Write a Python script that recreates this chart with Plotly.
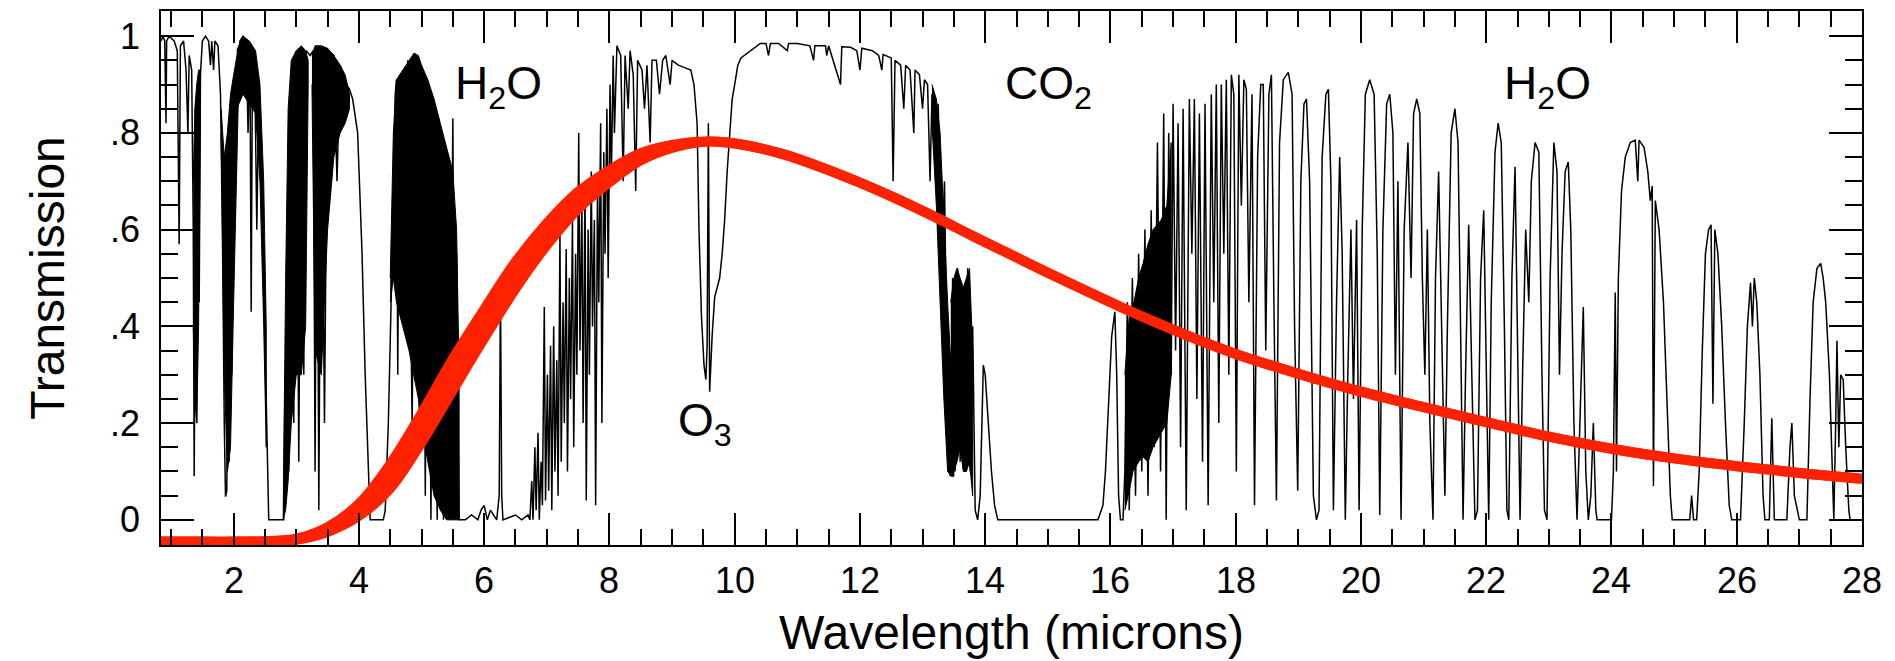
import plotly.graph_objects as go

# ---------------- red curve (band between two edges) ----------------
red_x = [0.84, 1.5, 2.0, 2.5, 3.0, 3.5, 4.0, 4.5, 5.0, 5.5, 6.0, 6.5, 7.0, 7.5, 8.0, 8.5, 9.0, 9.6,
         10.2, 10.8, 11.4, 12.0, 12.6, 13.2, 13.8, 14.4, 15.0, 15.6, 16.2, 16.8, 17.4, 18.0, 19.0,
         20.0, 21.0, 22.0, 23.0, 24.0, 25.0, 26.0, 27.0, 28.0]
red_lower = [-0.045, -0.045, -0.045, -0.044, -0.041, -0.025, 0.008, 0.065, 0.160, 0.268, 0.375, 0.478,
             0.568, 0.643, 0.698, 0.743, 0.769, 0.782, 0.774, 0.755, 0.728, 0.697, 0.663, 0.626,
             0.587, 0.549, 0.511, 0.474, 0.438, 0.404, 0.372, 0.343, 0.302, 0.265, 0.233, 0.202,
             0.172, 0.147, 0.127, 0.111, 0.097, 0.085]
red_upper = [-0.045, -0.045, -0.045, -0.044, -0.039, -0.015, 0.033, 0.115, 0.220, 0.333, 0.435, 0.533,
             0.613, 0.678, 0.723, 0.758, 0.775, 0.782, 0.774, 0.755, 0.728, 0.697, 0.663, 0.626,
             0.587, 0.549, 0.511, 0.474, 0.438, 0.404, 0.372, 0.343, 0.302, 0.265, 0.233, 0.202,
             0.172, 0.147, 0.127, 0.111, 0.097, 0.085]

# ---------------- transmission spectrum (x microns, transmission) ----------------
spec_near_ir = [(0.84, 0.99), (0.87, 1.0), (0.90, 0.99), (0.92, 0.82), (0.93, 0.99), (0.97, 1.0),
                (1.05, 0.99), (1.10, 0.97), (1.13, 0.57), (1.15, 0.98), (1.20, 0.99), (1.24, 0.93),
                (1.27, 0.80), (1.29, 0.96), (1.33, 0.93), (1.355, 0.6), (1.37, 0.09), (1.39, 0.55),
                (1.41, 0.2), (1.43, 0.8), (1.45, 0.45), (1.47, 0.92), (1.50, 0.99), (1.55, 1.0),
                (1.60, 0.99), (1.63, 0.94), (1.65, 0.99), (1.68, 0.93), (1.70, 0.99), (1.75, 0.98),
                (1.79, 0.88), (1.82, 0.6), (1.85, 0.2), (1.87, 0.048), (1.89, 0.06), (1.91, 0.35),
                (1.93, 0.12), (1.95, 0.55), (1.97, 0.3), (1.99, 0.75), (2.02, 0.6), (2.05, 0.92),
                (2.10, 0.99), (2.15, 1.0), (2.20, 0.99), (2.23, 0.8), (2.26, 0.97), (2.28, 0.43),
                (2.30, 0.95), (2.34, 0.9), (2.37, 0.6), (2.40, 0.88), (2.44, 0.75), (2.47, 0.55),
                (2.50, 0.35), (2.53, 0.14), (2.56, 0.0), (2.80, 0.0)]
spec_3um = [(2.82, 0.3), (2.84, 0.05), (2.86, 0.6), (2.88, 0.1), (2.92, 0.9), (2.96, 0.2),
            (3.00, 0.97), (3.04, 0.12), (3.08, 0.97), (3.12, 0.3), (3.16, 0.97), (3.22, 0.96),
            (3.27, 0.97), (3.30, 0.1), (3.33, 0.95), (3.36, 0.02), (3.40, 0.97), (3.45, 0.2),
            (3.50, 0.97), (3.60, 0.96), (3.65, 0.7), (3.70, 0.94), (3.80, 0.9), (3.85, 0.89),
            (3.90, 0.87), (3.98, 0.8), (4.05, 0.55), (4.10, 0.3), (4.15, 0.08), (4.18, 0.0),
            (4.39, 0.0), (4.42, 0.02), (4.47, 0.2), (4.52, 0.45), (4.55, 0.65), (4.58, 0.88)]
spec_5um = [(4.60, 0.91), (4.62, 0.3), (4.65, 0.92), (4.72, 0.4), (4.78, 0.95), (4.85, 0.2),
            (4.90, 0.96), (4.97, 0.15), (5.02, 0.93), (5.06, 0.05), (5.10, 0.9), (5.15, 0.0),
            (5.20, 0.86), (5.25, 0.0), (5.30, 0.8), (5.35, 0.0), (5.40, 0.76), (5.45, 0.0),
            (5.50, 0.83), (5.53, 0.0), (5.56, 0.55), (5.60, 0.0)]
spec_6um = [(5.70, 0.0), (5.80, 0.01), (5.90, 0.0), (5.95, 0.02), (6.00, 0.03), (6.05, 0.0),
            (6.10, 0.02), (6.20, 0.0), (6.24, 0.05), (6.26, 0.48), (6.28, 0.05), (6.30, 0.0),
            (6.50, 0.01), (6.60, 0.0), (6.70, 0.01), (6.73, 0.0), (6.76, 0.08), (6.78, 0.0),
            (6.81, 0.15), (6.83, 0.02), (6.86, 0.18), (6.88, 0.0), (6.91, 0.12), (6.93, 0.03),
            (6.96, 0.44), (6.98, 0.04), (7.01, 0.3), (7.03, 0.06), (7.06, 0.36), (7.08, 0.02),
            (7.11, 0.4), (7.13, 0.1), (7.16, 0.33), (7.18, 0.05), (7.21, 0.59), (7.23, 0.12),
            (7.26, 0.45), (7.28, 0.2), (7.31, 0.56), (7.33, 0.1), (7.36, 0.5), (7.38, 0.25),
            (7.41, 0.62), (7.43, 0.15), (7.46, 0.55), (7.48, 0.3), (7.51, 0.80), (7.53, 0.35),
            (7.56, 0.66), (7.58, 0.2), (7.61, 0.7), (7.63, 0.04), (7.66, 0.6), (7.68, 0.3),
            (7.71, 0.72), (7.73, 0.4), (7.76, 0.62), (7.78, 0.03), (7.81, 0.7), (7.83, 0.45),
            (7.86, 0.82), (7.88, 0.2), (7.91, 0.76), (7.93, 0.55), (7.96, 0.85), (7.98, 0.5),
            (8.01, 0.9), (8.03, 0.7), (8.06, 0.96), (8.08, 0.8)]
spec_window = [(8.12, 0.98), (8.18, 0.96), (8.22, 0.70), (8.25, 0.96), (8.30, 0.85), (8.33, 0.97),
               (8.38, 0.92), (8.42, 0.68), (8.45, 0.95), (8.52, 0.93), (8.56, 0.85), (8.60, 0.94),
               (8.65, 0.78), (8.68, 0.95), (8.75, 0.95), (8.80, 0.88), (8.85, 0.95), (8.90, 0.96),
               (8.97, 0.9), (9.00, 0.95), (9.10, 0.94), (9.20, 0.935), (9.30, 0.93), (9.35, 0.9),
               (9.40, 0.82), (9.43, 0.6), (9.47, 0.42), (9.51, 0.32), (9.54, 0.29), (9.56, 0.36),
               (9.58, 0.82), (9.60, 0.265), (9.64, 0.38), (9.68, 0.46), (9.72, 0.48), (9.76, 0.5),
               (9.80, 0.55), (9.84, 0.62), (9.88, 0.72), (9.92, 0.8), (9.96, 0.87), (10.00, 0.9),
               (10.05, 0.94), (10.10, 0.955), (10.20, 0.965), (10.30, 0.975), (10.41, 0.985),
               (10.50, 0.985), (10.54, 0.96), (10.57, 0.985), (10.70, 0.985), (10.84, 0.97),
               (10.86, 0.985), (11.00, 0.985), (11.20, 0.98), (11.26, 0.95), (11.28, 0.98),
               (11.45, 0.98), (11.47, 0.96), (11.50, 0.98), (11.69, 0.9), (11.71, 0.978),
               (11.85, 0.977), (11.95, 0.97), (12.00, 0.93), (12.03, 0.975), (12.20, 0.97),
               (12.30, 0.96), (12.35, 0.93), (12.37, 0.962), (12.50, 0.955), (12.53, 0.7),
               (12.56, 0.95), (12.65, 0.94), (12.70, 0.85), (12.73, 0.94), (12.80, 0.93),
               (12.86, 0.8), (12.88, 0.93), (12.95, 0.92), (13.00, 0.85), (13.03, 0.91),
               (13.08, 0.9), (13.12, 0.7), (13.15, 0.88)]
spec_co2 = [(13.20, 0.75), (13.25, 0.86), (13.30, 0.5), (13.35, 0.7), (13.40, 0.2), (13.44, 0.09),
            (13.48, 0.5), (13.52, 0.1), (13.56, 0.52), (13.60, 0.12), (13.64, 0.48), (13.68, 0.15),
            (13.72, 0.52), (13.76, 0.1), (13.80, 0.4), (13.84, 0.02), (13.88, 0.0), (13.92, 0.05),
            (13.97, 0.32), (14.00, 0.30), (14.05, 0.2), (14.10, 0.1), (14.15, 0.03), (14.20, 0.0),
            (15.80, 0.0), (15.83, 0.01), (15.88, 0.03), (15.92, 0.1), (15.97, 0.25), (16.02, 0.38),
            (16.07, 0.43), (16.10, 0.3), (16.13, 0.05), (16.16, 0.0), (16.20, 0.0), (16.23, 0.1),
            (16.27, 0.45), (16.30, 0.02), (16.35, 0.5), (16.40, 0.05), (16.45, 0.55), (16.50, 0.1),
            (16.55, 0.6), (16.60, 0.05), (16.65, 0.64), (16.70, 0.15), (16.75, 0.78), (16.80, 0.1),
            (16.85, 0.84), (16.89, 0.0), (16.93, 0.8), (16.97, 0.3)]
spec_far_a = [(17.00, 0.86), (17.04, 0.35), (17.08, 0.82), (17.12, 0.15), (17.16, 0.85), (17.21, 0.02),
              (17.26, 0.87), (17.30, 0.55), (17.34, 0.87), (17.38, 0.25), (17.42, 0.84), (17.47, 0.12),
              (17.51, 0.86), (17.56, 0.03), (17.61, 0.88), (17.65, 0.45), (17.69, 0.90), (17.73, 0.2),
              (17.77, 0.9), (17.81, 0.55), (17.85, 0.91), (17.89, 0.3), (17.93, 0.92), (17.97, 0.88),
              (18.01, 0.10), (18.05, 0.92), (18.09, 0.65), (18.13, 0.91), (18.17, 0.89), (18.21, 0.45),
              (18.26, 0.88), (18.30, 0.03), (18.35, 0.75), (18.40, 0.90), (18.44, 0.90), (18.48, 0.35),
              (18.53, 0.88), (18.57, 0.92), (18.61, 0.45), (18.65, 0.04), (18.70, 0.78), (18.76, 0.91),
              (18.84, 0.925), (18.90, 0.88), (18.94, 0.4), (18.99, 0.06), (19.04, 0.70), (19.09, 0.86),
              (19.13, 0.87), (19.18, 0.70), (19.24, 0.05), (19.29, 0.0), (19.33, 0.02), (19.38, 0.75),
              (19.44, 0.88), (19.48, 0.89), (19.52, 0.7), (19.56, 0.02), (19.61, 0.45), (19.66, 0.75),
              (19.70, 0.55), (19.75, 0.0), (19.79, 0.3), (19.84, 0.6), (19.88, 0.25), (19.93, 0.62),
              (19.97, 0.02)]
spec_far_b = [(20.02, 0.6), (20.07, 0.88), (20.14, 0.91), (20.21, 0.88), (20.26, 0.55), (20.30, 0.01),
              (20.35, 0.6), (20.41, 0.86), (20.46, 0.88), (20.51, 0.8), (20.55, 0.3), (20.59, 0.7),
              (20.64, 0.0), (20.69, 0.6), (20.75, 0.78), (20.80, 0.5), (20.84, 0.84), (20.89, 0.87),
              (20.94, 0.84), (20.98, 0.5), (21.02, 0.3), (21.06, 0.6), (21.10, 0.2), (21.15, 0.0),
              (21.19, 0.5), (21.24, 0.72), (21.30, 0.3), (21.34, 0.05), (21.38, 0.4), (21.44, 0.8),
              (21.50, 0.85), (21.55, 0.78), (21.59, 0.4), (21.63, 0.0), (21.67, 0.3), (21.72, 0.61),
              (21.77, 0.3), (21.82, 0.0), (21.86, 0.02), (21.91, 0.5), (21.96, 0.64), (22.00, 0.3),
              (22.04, 0.0), (22.08, 0.45), (22.14, 0.76), (22.19, 0.82), (22.24, 0.78), (22.29, 0.4),
              (22.33, 0.02)]
spec_far_c = [(22.36, 0.0), (22.41, 0.5), (22.46, 0.73), (22.50, 0.4), (22.54, 0.0), (22.58, 0.3),
              (22.63, 0.6), (22.68, 0.45), (22.72, 0.7), (22.78, 0.78), (22.84, 0.76), (22.89, 0.3),
              (22.93, 0.02), (22.97, 0.0), (23.02, 0.5), (23.08, 0.78), (23.13, 0.72), (23.17, 0.3),
              (23.21, 0.55), (23.26, 0.72), (23.31, 0.74), (23.35, 0.6), (23.40, 0.2), (23.45, 0.0),
              (23.50, 0.2), (23.55, 0.44), (23.59, 0.1), (23.63, 0.0), (23.67, 0.05), (23.71, 0.2),
              (23.75, 0.02), (23.77, 0.0), (24.00, 0.0), (24.03, 0.1), (24.06, 0.47), (24.08, 0.1),
              (24.11, 0.5), (24.16, 0.68), (24.22, 0.75), (24.30, 0.78), (24.38, 0.785), (24.42, 0.70),
              (24.44, 0.785), (24.52, 0.77), (24.58, 0.72), (24.62, 0.66), (24.65, 0.69), (24.67, 0.07),
              (24.70, 0.66), (24.76, 0.6), (24.83, 0.45), (24.89, 0.25), (24.94, 0.05), (24.97, 0.0)]
spec_far_d = [(25.25, 0.0), (25.28, 0.05), (25.31, 0.0), (25.36, 0.0), (25.40, 0.1), (25.45, 0.35),
              (25.50, 0.55), (25.55, 0.6), (25.59, 0.61), (25.62, 0.24), (25.65, 0.6), (25.70, 0.55),
              (25.76, 0.4), (25.82, 0.2), (25.88, 0.03), (25.92, 0.0), (26.06, 0.0), (26.12, 0.2),
              (26.17, 0.4), (26.22, 0.49), (26.25, 0.4), (26.28, 0.5), (26.32, 0.45), (26.37, 0.3),
              (26.42, 0.05), (26.45, 0.0), (26.52, 0.0), (26.56, 0.21), (26.60, 0.0), (26.80, 0.0),
              (26.85, 0.15), (26.88, 0.2), (26.92, 0.05), (27.00, 0.0), (27.12, 0.0), (27.17, 0.25),
              (27.22, 0.45), (27.28, 0.52), (27.34, 0.53), (27.38, 0.5), (27.42, 0.45), (27.48, 0.3),
              (27.53, 0.05), (27.55, 0.0), (27.58, 0.2), (27.60, 0.37), (27.63, 0.15), (27.66, 0.3),
              (27.70, 0.29), (27.74, 0.15), (27.79, 0.02), (27.81, 0.0), (28.00, 0.0)]

# ---------------- densely packed line regions (upper / lower envelopes) ----------------
band14_x = [1.355, 1.38, 1.41, 1.44, 1.47]
band14_top = [0.70, 0.85, 0.90, 0.93, 0.93]
band14_bot = [0.40, 0.25, 0.20, 0.40, 0.85]

band19_x = [1.80, 1.85, 1.90, 1.95, 2.00, 2.05, 2.08]
band19_top = [0.85, 0.75, 0.80, 0.88, 0.92, 0.96, 0.98]
band19_bot = [0.80, 0.30, 0.10, 0.15, 0.45, 0.75, 0.90]

band22_x = [2.05, 2.15, 2.25, 2.35, 2.42, 2.48, 2.52]
band22_top = [0.97, 1.00, 0.99, 0.97, 0.90, 0.70, 0.40]
band22_bot = [0.85, 0.88, 0.86, 0.84, 0.70, 0.40, 0.15]

band29_x = [2.79, 2.83, 2.87, 2.92, 3.00, 3.08, 3.15, 3.19]
band29_top = [0.00, 0.50, 0.85, 0.95, 0.97, 0.98, 0.97, 0.95]
band29_bot = [0.00, 0.02, 0.08, 0.20, 0.30, 0.30, 0.40, 0.90]

band35_x = [3.25, 3.30, 3.40, 3.50, 3.60, 3.70, 3.78, 3.85]
band35_top = [0.96, 0.98, 0.98, 0.975, 0.96, 0.94, 0.92, 0.88]
band35_bot = [0.90, 0.35, 0.30, 0.60, 0.75, 0.80, 0.82, 0.85]

band50_x = [4.50, 4.55, 4.60, 4.70, 4.80, 4.88, 4.95, 5.00, 5.10, 5.20, 5.30, 5.40, 5.50, 5.56, 5.60]
band50_top = [0.50, 0.80, 0.91, 0.93, 0.95, 0.965, 0.96, 0.94, 0.91, 0.87, 0.82, 0.77, 0.72, 0.60, 0.30]
band50_bot = [0.45, 0.50, 0.45, 0.40, 0.35, 0.30, 0.25, 0.20, 0.12, 0.05, 0.02, 0.00, 0.00, 0.00, 0.00]

band133_x = [13.15, 13.22, 13.28, 13.34, 13.40, 13.46, 13.50]
band133_top = [0.90, 0.87, 0.80, 0.62, 0.45, 0.30, 0.15]
band133_bot = [0.82, 0.65, 0.45, 0.25, 0.10, 0.09, 0.09]

band136_x = [13.45, 13.50, 13.55, 13.60, 13.65, 13.70, 13.75, 13.80]
band136_top = [0.45, 0.50, 0.52, 0.50, 0.48, 0.50, 0.52, 0.35]
band136_bot = [0.10, 0.10, 0.12, 0.15, 0.10, 0.10, 0.12, 0.05]

band165_x = [16.23, 16.30, 16.36, 16.45, 16.52, 16.60, 16.68, 16.81, 16.90, 16.97]
band165_top = [0.30, 0.42, 0.44, 0.50, 0.53, 0.57, 0.60, 0.62, 0.65, 0.78]
band165_bot = [0.02, 0.06, 0.10, 0.12, 0.13, 0.12, 0.15, 0.18, 0.20, 0.30]

# ---------------- labels ----------------
x_ticks = [2, 4, 6, 8, 10, 12, 14, 16, 18, 20, 22, 24, 26, 28]
x_tick_text = [str(v) for v in x_ticks]
y_ticks = [0, 0.2, 0.4, 0.6, 0.8, 1.0]
y_tick_text = ["0", ".2", ".4", ".6", ".8", "1"]
x_title = "Wavelength (microns)"
y_title = "Transmission"
gas_labels = ["H<sub>2</sub>O", "O<sub>3</sub>", "CO<sub>2</sub>", "H<sub>2</sub>O"]
gas_x = [5.50, 9.06, 14.28, 22.25]
gas_y = [0.895, 0.20, 0.895, 0.895]

FONT = "Liberation Sans, Arial, Helvetica, sans-serif"
RED = "rgb(255,34,0)"

fig = go.Figure()

bands = [(band14_x, band14_top, band14_bot), (band19_x, band19_top, band19_bot),
         (band22_x, band22_top, band22_bot), (band29_x, band29_top, band29_bot),
         (band35_x, band35_top, band35_bot), (band50_x, band50_top, band50_bot),
         (band133_x, band133_top, band133_bot), (band136_x, band136_top, band136_bot),
         (band165_x, band165_top, band165_bot)]
for bx, bt, bb in bands:
    fig.add_trace(go.Scatter(x=bx + bx[::-1], y=bt + bb[::-1], mode="lines", fill="toself",
                             fillcolor="black", line=dict(color="black", width=1),
                             hoverinfo="skip", showlegend=False))

spectrum = (spec_near_ir + spec_3um + spec_5um + spec_6um + spec_window + spec_co2
            + spec_far_a + spec_far_b + spec_far_c + spec_far_d)
fig.add_trace(go.Scatter(x=[p[0] for p in spectrum], y=[p[1] for p in spectrum], mode="lines",
                         line=dict(color="black", width=1.5), showlegend=False))

fig.add_trace(go.Scatter(x=red_x, y=red_lower, mode="lines",
                         line=dict(color=RED, width=10, shape="spline"), showlegend=False))
fig.add_trace(go.Scatter(x=red_x, y=red_upper, mode="lines", fill="tonexty", fillcolor=RED,
                         line=dict(color=RED, width=10, shape="spline"), showlegend=False))

for t, gx, gy in zip(gas_labels, gas_x, gas_y):
    fig.add_annotation(x=gx, y=gy, xref="x", yref="y", text=t, showarrow=False,
                       xanchor="left", yanchor="middle", font=dict(size=46, color="black", family=FONT))

# x tick labels and x title, placed below the axis at the tick positions
for v, t in zip(x_ticks, x_tick_text):
    fig.add_annotation(x=v, y=0, xref="x", yref="paper", text=t, showarrow=False,
                       xanchor="center", yanchor="middle", yshift=-35,
                       font=dict(size=36, color="black", family=FONT))
fig.add_annotation(x=0.5, y=0, xref="paper", yref="paper", text=x_title, showarrow=False,
                   xanchor="center", yanchor="middle", yshift=-87,
                   font=dict(size=48, color="black", family=FONT))

fig.update_layout(
    width=1895, height=661,
    margin=dict(l=161, r=33, t=9, b=116),
    paper_bgcolor="white", plot_bgcolor="white",
    font=dict(family=FONT, color="black"),
    showlegend=False,
)
fig.update_xaxes(
    range=[0.84, 28.0], tickvals=x_ticks, ticks="inside", ticklen=32, tickwidth=1.5,
    tickcolor="black", showline=True, linecolor="black", linewidth=1.5, mirror="ticks",
    showgrid=False, zeroline=False, showticklabels=False,
    minor=dict(dtick=0.5, tick0=0, ticks="inside", ticklen=16, tickwidth=1.5, tickcolor="black", showgrid=False),
)
fig.update_yaxes(
    range=[-0.052, 1.052], tickvals=y_ticks, ticktext=y_tick_text, ticks="inside", ticklen=33,
    tickwidth=1.5, tickcolor="black", showline=True, linecolor="black", linewidth=1.5, mirror="ticks",
    showgrid=False, zeroline=False, tickfont=dict(size=36), ticklabelstandoff=12,
    minor=dict(dtick=0.05, tick0=0, ticks="inside", ticklen=17, tickwidth=1.5, tickcolor="black", showgrid=False),
    title=dict(text=y_title, font=dict(size=48), standoff=30),
)

fig.write_html("out.html", config={"displayModeBar": False},
               post_script="document.body.style.margin='0';")
